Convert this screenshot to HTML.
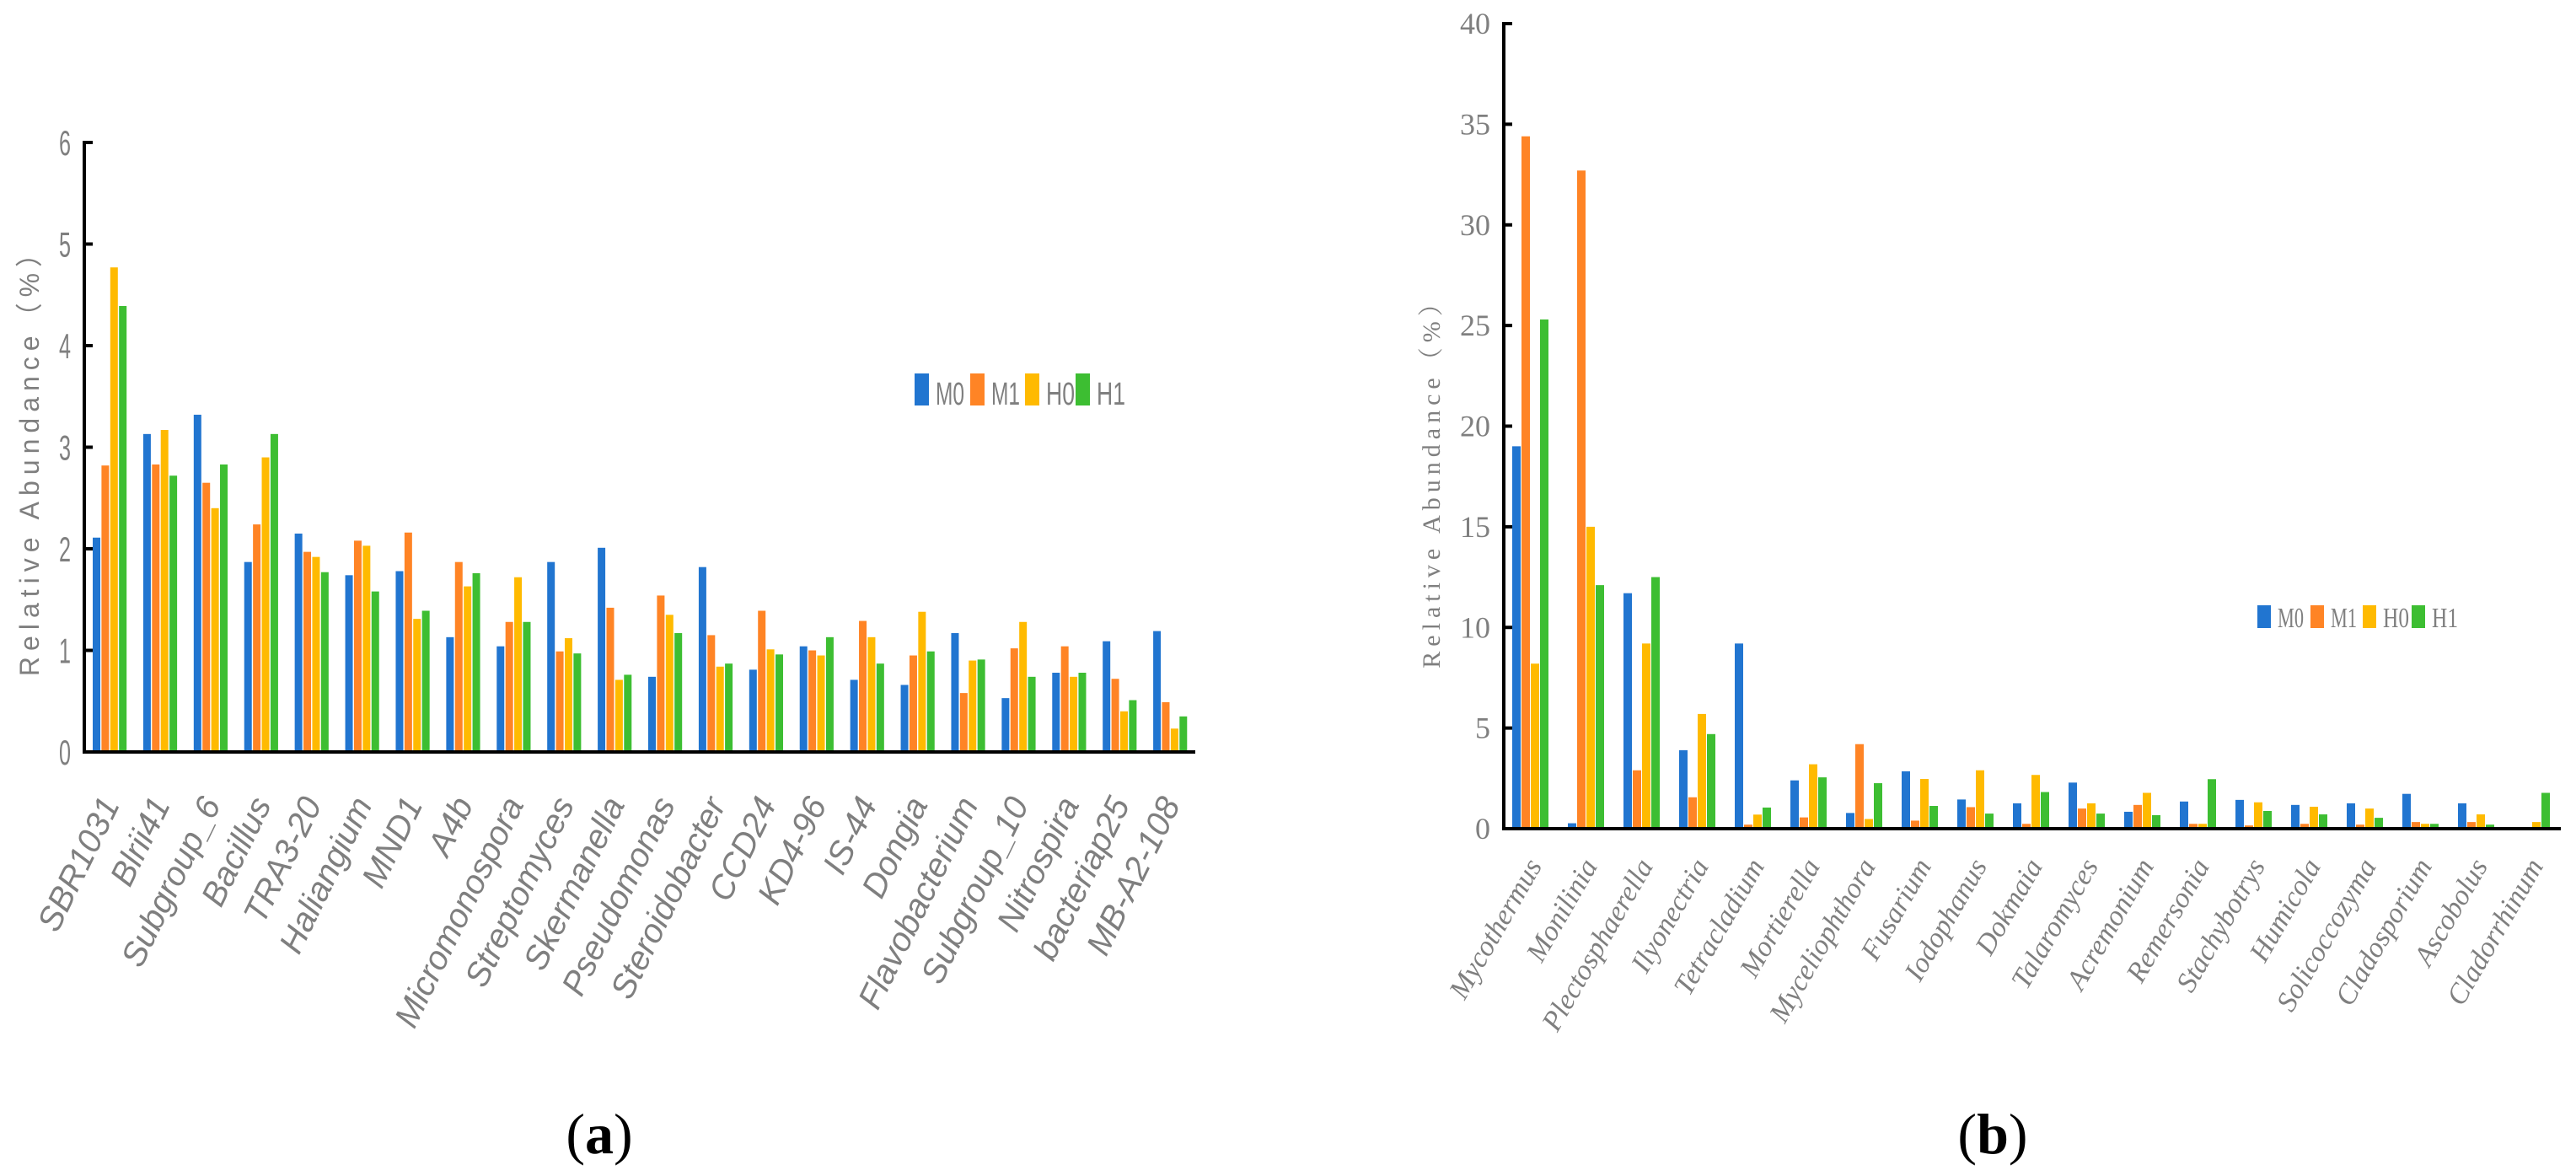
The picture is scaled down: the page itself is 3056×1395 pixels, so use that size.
<!DOCTYPE html>
<html><head><meta charset="utf-8"><style>
html,body{margin:0;padding:0;background:#fff;}
svg{display:block;}
</style></head><body>
<svg id="fig" width="3056" height="1395" viewBox="0 0 3056 1395" xmlns="http://www.w3.org/2000/svg">
<g id="chartA"></g>
<g id="chartB"></g>
<text x="711" y="1368" text-anchor="middle" font-family="Liberation Serif, serif" font-size="68">(<tspan font-weight="bold">a</tspan>)</text>
<text x="2364" y="1368" text-anchor="middle" font-family="Liberation Serif, serif" font-size="68">(<tspan font-weight="bold">b</tspan>)</text>
</svg>
<script>
const seriesNames = ["M0","M1","H0","H1"];
const colors = ["#2175d0","#ff8425","#ffba00","#3dbe32"];

const catsA = ["SBR1031","Blrii41","Subgroup_6","Bacillus","TRA3-20","Haliangium","MND1","A4b","Micromonospora","Streptomyces","Skermanella","Pseudomonas","Steroidobacter","CCD24","KD4-96","IS-44","Dongia","Flavobacterium","Subgroup_10","Nitrospira","bacteriap25","MB-A2-108"];
const a_M0 = [2.11,3.13,3.32,1.87,2.15,1.74,1.78,1.13,1.04,1.87,2.01,0.74,1.82,0.81,1.04,0.71,0.66,1.17,0.53,0.78,1.09,1.19];
const a_M1 = [2.82,2.83,2.65,2.24,1.97,2.08,2.16,1.87,1.28,0.99,1.42,1.54,1.15,1.39,1.00,1.29,0.95,0.58,1.02,1.04,0.72,0.49];
const a_H0 = [4.77,3.17,2.40,2.90,1.92,2.03,1.31,1.63,1.72,1.12,0.71,1.35,0.84,1.01,0.95,1.13,1.38,0.90,1.28,0.74,0.40,0.23];
const a_H1 = [4.39,2.72,2.83,3.13,1.77,1.58,1.39,1.76,1.28,0.97,0.76,1.17,0.87,0.96,1.13,0.87,0.99,0.91,0.74,0.78,0.51,0.35];
const ticksA = [0,1,2,3,4,5,6];

const catsB = ["Mycothermus","Monilinia","Plectosphaerella","Ilyonectria","Tetracladium","Mortierella","Myceliophthora","Fusarium","Iodophanus","Dokmaia","Talaromyces","Acremonium","Remersonia","Stachybotrys","Humicola","Solicoccozyma","Cladosporium","Ascobolus","Cladorrhinum"];
const b_M0 = [19.0,0.27,11.7,3.9,9.2,2.4,0.78,2.85,1.45,1.26,2.29,0.84,1.35,1.43,1.18,1.26,1.73,1.26,0];
const b_M1 = [34.4,32.7,2.9,1.56,0.2,0.56,4.2,0.4,1.07,0.24,1.0,1.18,0.24,0.16,0.24,0.2,0.33,0.33,0];
const b_H0 = [8.2,15.0,9.2,5.7,0.7,3.2,0.48,2.47,2.9,2.67,1.26,1.78,0.24,1.31,1.09,1.0,0.24,0.71,0.33];
const b_H1 = [25.3,12.1,12.5,4.7,1.05,2.55,2.26,1.13,0.75,1.82,0.75,0.67,2.46,0.88,0.71,0.54,0.24,0.2,1.78];
const ticksB = [0,5,10,15,20,25,30,35,40];

const NS = "http://www.w3.org/2000/svg";
function mk(parent, tag, attrs, txt){
  const e = document.createElementNS(NS, tag);
  for (const k in attrs) e.setAttribute(k, attrs[k]);
  if (txt !== undefined) e.textContent = txt;
  parent.appendChild(e);
  return e;
}

function drawChart(g, cfg){
  const yPix = v => cfg.y0 - (v - cfg.min) / (cfg.max - cfg.min) * (cfg.y0 - cfg.yTop);
  const series = cfg.series;
  const n = cfg.cats.length;
  const gw = (cfg.xEnd - cfg.x0) / n;
  for (let i = 0; i < n; i++){
    for (let s = 0; s < series.length; s++){
      const v = series[s][i];
      if (!(v > 0)) continue;
      const x = cfg.x0 + i * gw + cfg.groupPad + s * cfg.step;
      const r = mk(g, "rect", {x: x, y: yPix(v), width: cfg.barW, height: cfg.y0 - yPix(v), fill: colors[s]});
      
      
    }
    const cx = cfg.x0 + i * gw + cfg.groupPad + 2 * cfg.step + cfg.labelDx;
    const t = mk(g, "text", {x: cx, y: cfg.labelY, "text-anchor": "end", transform: "rotate(" + cfg.labelRot + " " + cx + " " + cfg.labelY + ")", "font-family": cfg.labelFont, "font-style": "italic", "font-size": cfg.labelSize, fill: "#7f7f7f"}, cfg.cats[i]);
    
    
  }
  const ax = mk(g, "line", {x1: cfg.x0, y1: cfg.yTop - 2, x2: cfg.x0, y2: cfg.y0 + 2, stroke: "#000", "stroke-width": 4});
  
  
  const xa = mk(g, "line", {x1: cfg.x0 - 2, y1: cfg.y0, x2: cfg.xEnd, y2: cfg.y0, stroke: "#000", "stroke-width": 4});
  
  
  for (const tv of cfg.ticks){
    const y = yPix(tv);
    const tk = mk(g, "line", {x1: cfg.x0, y1: y, x2: cfg.x0 + 10, y2: y, stroke: "#000", "stroke-width": 4});
    
    
    const tl = mk(g, "text", {x: cfg.tickX, y: y + cfg.tickDy, "text-anchor": cfg.tickAnchor, "font-family": cfg.tickFont, "font-size": cfg.tickSize, fill: "#7f7f7f", transform: cfg.tickSX ? "translate(" + cfg.tickX + " 0) scale(" + cfg.tickSX + " 1) translate(" + (-cfg.tickX) + " 0)" : ""}, String(tv));
    
    
  }
  const yt = mk(g, "text", {x: cfg.titleX, y: cfg.titleY, "text-anchor": "middle", transform: "rotate(-90 " + cfg.titleX + " " + cfg.titleY + ")", "font-family": cfg.titleFont, "font-size": cfg.titleSize, "letter-spacing": cfg.titleLS, fill: "#7f7f7f"}, "Relative Abundance（%）");
  
  
  let lx = cfg.legX;
  for (let s = 0; s < seriesNames.length; s++){
    const sw = mk(g, "rect", {x: lx, y: cfg.legY, width: cfg.legSwW, height: cfg.legSwH, fill: colors[s]});
    
    
    const lt = mk(g, "text", {x: lx + cfg.legSwW + 8, y: cfg.legY + cfg.legSwH - 1, "font-family": cfg.legFont, "font-size": cfg.legSize, fill: "#7f7f7f", "textLength": cfg.legTW, "lengthAdjust": "spacingAndGlyphs"}, seriesNames[s]);
    
    
    lx += cfg.legStep[s];
  }
}

drawChart(document.getElementById('chartA'), {
  cats: catsA, series: [a_M0, a_M1, a_H0, a_H1], ticks: ticksA,
  min: 0, max: 6, x0: 100, xEnd: 1418, y0: 892, yTop: 169,
  groupPad: 10, step: 10.4, barW: 9,
  labelY: 954, labelDx: 12, labelRot: -64, labelFont: "Liberation Sans, sans-serif", labelSize: 40,
  tickX: 77, tickDy: 15, tickAnchor: "middle", tickFont: "Liberation Sans, sans-serif", tickSize: 42, tickSX: 0.6,
  titleX: 46, titleY: 540, titleFont: "Liberation Sans, 'Noto Sans CJK SC', sans-serif", titleSize: 32, titleLS: 7,
  legX: 1085, legY: 443, legSwW: 17, legSwH: 38, legFont: "Liberation Sans, sans-serif", legSize: 38, legTW: 34, legStep: [66, 65, 60, 60]
});

drawChart(document.getElementById('chartB'), {
  cats: catsB, series: [b_M0, b_M1, b_H0, b_H1], ticks: ticksB,
  min: 0, max: 40, x0: 1784, xEnd: 3038, y0: 983, yTop: 28,
  groupPad: 10, step: 11, barW: 10,
  labelY: 1027, labelDx: 14, labelRot: -60, labelFont: "Liberation Serif, serif", labelSize: 34,
  tickX: 1768, tickDy: 12, tickAnchor: "end", tickFont: "Liberation Serif, serif", tickSize: 36, tickSX: 0,
  titleX: 1708, titleY: 566, titleFont: "Liberation Serif, 'Noto Serif CJK SC', serif", titleSize: 30, titleLS: 6,
  legX: 2678, legY: 718, legSwW: 16, legSwH: 27, legFont: "Liberation Serif, serif", legSize: 34, legTW: 31, legStep: [63, 62, 58, 58]
});
</script>
</body></html>
